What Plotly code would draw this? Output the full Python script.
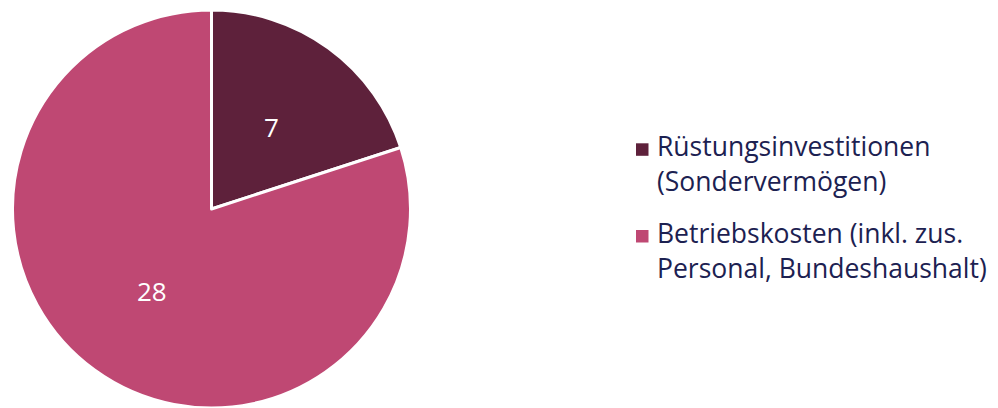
import math
import plotly.graph_objects as go

label_lines = [["Rüstungsinvestitionen", "(Sondervermögen)"],
               ["Betriebskosten (inkl. zus.", "Personal, Bundeshaushalt)"]]
labels = ["<br>".join(l) for l in label_lines]
values = [7, 28]
colors = ["#5e213b", "#bf4873"]

W, H = 998, 408
MT = 10
R = (H - MT) / 2
CX, CY = 211.5, MT + R
FONT = "Open Sans"
TXT = "#1c2151"


def py2paper(py):
    return (H - py) / (H - MT)


fig = go.Figure(go.Pie(
    labels=labels,
    values=values,
    sort=False,
    direction="clockwise",
    rotation=0,
    marker=dict(colors=colors, line=dict(color="white", width=3)),
    textinfo="none",
    hoverinfo="label+value",
    showlegend=False,
    domain=dict(x=[(CX - R) / W, (CX + R) / W], y=[0, 1]),
))

# value labels at the middle angle of each slice, half radius
total = sum(values)
cum = 0
annotations = []
for v in values:
    mid = (cum + v / 2) / total * 2 * math.pi
    cum += v
    px = CX + 0.51 * R * math.sin(mid)
    py = CY - 0.51 * R * math.cos(mid)
    annotations.append(dict(
        x=px / W, y=py2paper(py), xref="paper", yref="paper",
        text=str(v), showarrow=False, xanchor="center", yanchor="middle",
        font=dict(color="white", size=26, family=FONT),
    ))

# legend (squares + text lines)
shapes = []
LEG_X_SQ = 636
SQ = 12.5
LEG_X_TXT = 655
item_top = [143.3, 230]
LINE_GAP = 35
for i, lines in enumerate(label_lines):
    y0 = item_top[i]
    shapes.append(dict(
        type="rect", xref="paper", yref="paper",
        x0=LEG_X_SQ / W, x1=(LEG_X_SQ + SQ) / W,
        y0=py2paper(y0 + SQ), y1=py2paper(y0),
        fillcolor=colors[i], line=dict(width=0),
    ))
    base = y0 + 12.7
    for j, t in enumerate(lines):
        annotations.append(dict(
            x=LEG_X_TXT / W, y=py2paper(base + j * LINE_GAP - 10),
            xref="paper", yref="paper", text=t, showarrow=False,
            xanchor="left", yanchor="middle",
            font=dict(size=26.5, family=FONT, color=TXT),
        ))

fig.update_layout(
    width=W, height=H,
    margin=dict(l=0, r=0, t=MT, b=0),
    paper_bgcolor="white",
    plot_bgcolor="white",
    font=dict(family=FONT, color=TXT),
    annotations=annotations,
    shapes=shapes,
    showlegend=False,
)

fig.write_html("out.html")
